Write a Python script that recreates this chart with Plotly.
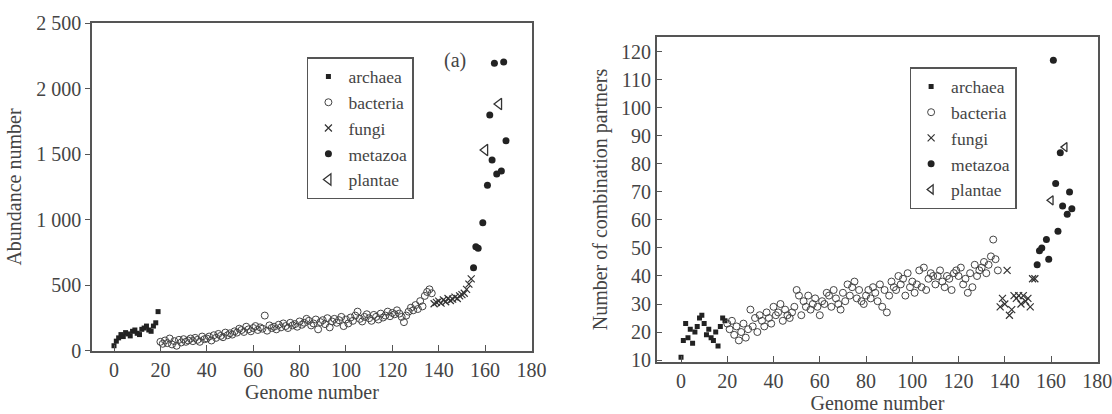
import plotly.graph_objects as go

# ---------------- Panel (a): abundance ----------------
arch_a_x = [0, 1, 2, 3, 4, 5, 6, 7, 8, 9, 10, 11, 12, 13, 14, 15, 16, 17, 18, 19]
arch_a_y = [40, 75, 100, 125, 110, 140, 130, 115, 150, 160, 135, 125, 165, 175, 190, 160, 150, 190, 215, 300]

bact_a_x = [20, 21, 22, 23, 24, 25, 26, 27, 28, 29,
            30, 31, 32, 33, 34, 35, 36, 37, 38, 39,
            40, 41, 42, 43, 44, 45, 46, 47, 48, 49,
            50, 51, 52, 53, 54, 55, 56, 57, 58, 59,
            60, 61, 62, 63, 64, 65, 66, 67, 68, 69,
            70, 71, 72, 73, 74, 75, 76, 77, 78, 79,
            80, 81, 82, 83, 84, 85, 86, 87, 88, 89,
            90, 91, 92, 93, 94, 95, 96, 97, 98, 99,
            100, 101, 102, 103, 104, 105, 106, 107, 108, 109,
            110, 111, 112, 113, 114, 115, 116, 117, 118, 119,
            120, 121, 122, 123, 124, 125, 126, 127, 128, 129,
            130, 131, 132, 133, 134, 135, 136, 137]
bact_a_y = [70, 55, 80, 60, 95, 50, 75, 40, 85, 65,
            90, 70, 80, 95, 75, 100, 85, 70, 110, 90,
            95, 110, 80, 120, 100, 130, 115, 105, 140, 120,
            135, 125, 150, 140, 170, 160, 145, 185, 165, 150,
            175, 190, 160, 180, 170, 270, 155, 195, 175, 185,
            165, 200, 180, 210, 190, 175, 215, 195, 205, 185,
            225, 200, 215, 245, 230, 195, 210, 240, 165, 220,
            235, 205, 250, 180, 225, 245, 215, 235, 260, 190,
            240, 210, 255, 230, 270, 300, 245, 225, 260, 280,
            250, 230, 275, 260, 240, 285, 255, 270, 300, 265,
            290, 280, 310, 285, 260, 220, 270, 300, 330, 310,
            350, 320, 380, 340, 420, 450, 470, 440]

fung_a_x = [138, 139, 140, 141, 142, 143, 144, 145, 146, 147, 148, 149, 150, 151, 152, 153, 154]
fung_a_y = [360, 370, 380, 365, 390, 375, 400, 385, 395, 410, 400, 420, 430, 440, 470, 510, 550]

meta_a_x = [155, 156, 157, 159, 161, 162, 163, 164, 165, 167, 168, 169]
meta_a_y = [635, 795, 783, 978, 1263, 1799, 1456, 2193, 1349, 1372, 2203, 1603]

plan_a_x = [160, 166]
plan_a_y = [1532, 1883]

# ---------------- Panel (b): combination partners ----------------
arch_b_x = [0, 1, 2, 3, 4, 5, 6, 7, 8, 9, 10, 11, 12, 13, 14, 15, 16, 17, 18, 19]
arch_b_y = [11, 17, 23, 18, 21, 16, 20, 22, 25, 26, 23, 19, 21, 18, 17, 20, 15, 22, 25, 24]

bact_b_x = bact_a_x
bact_b_y = [23, 21, 24, 19, 22, 17, 20, 23, 18, 21,
            28, 22, 25, 20, 26, 24, 22, 27, 25, 23,
            29, 26, 27, 30, 24, 28, 26, 25, 27, 29,
            35, 33, 26, 31, 29, 33, 28, 30, 32, 29,
            26, 31, 30, 34, 33, 29, 35, 32, 30, 28,
            34, 31, 37, 33, 36, 38, 32, 35, 31, 30,
            33, 35, 32, 36, 34, 31, 37, 29, 35, 27,
            33, 38, 36, 35, 40, 37, 39, 33, 41, 36,
            38, 34, 37, 42, 36, 43, 35, 39, 41, 40,
            37, 40, 42, 38, 36, 40, 39, 35, 41, 42,
            40, 43, 37, 39, 34, 41, 36, 44, 40, 42,
            43, 45, 41, 44, 47, 53, 46, 42]

fung_b_x = [138, 139, 140, 141, 142, 143, 144, 145, 146, 147, 148, 149, 150, 151, 152, 153]
fung_b_y = [29, 32, 30, 42, 26, 28, 33, 32, 33, 30, 33, 31, 32, 29, 39, 39]

meta_b_x = [154, 155, 156, 158, 159, 161, 162, 163, 164, 165, 167, 168, 169]
meta_b_y = [44, 49, 50, 53, 46, 117, 73, 56, 84, 65, 62, 70, 64]

plan_b_x = [160, 166]
plan_b_y = [67, 86]

a_yticks = [0, 500, 1000, 1500, 2000, 2500]
a_yticklabels = ["0", "500", "1 000", "1 500", "2 000", "2 500"]
b_yticks = [10, 20, 30, 40, 50, 60, 70, 80, 90, 100, 110, 120]
x_ticks = [0, 20, 40, 60, 80, 100, 120, 140, 160, 180]

INK = "#222222"
AX = "#555555"
TXT = "#444444"
FONT = "Liberation Serif, Times New Roman, serif"

groups = [
    ("archaea", dict(symbol="square", size=5, color=INK)),
    ("bacteria", dict(symbol="circle-open", size=7, color="#444444", line=dict(width=1))),
    ("fungi", dict(symbol="x-thin-open", size=7, color="#333333", line=dict(width=1.2))),
    ("metazoa", dict(symbol="circle", size=7, color=INK)),
    ("plantae", dict(symbol="triangle-left-open", size=10, color="#333333", line=dict(width=1.3))),
]

data_a = [(arch_a_x, arch_a_y), (bact_a_x, bact_a_y), (fung_a_x, fung_a_y),
          (meta_a_x, meta_a_y), (plan_a_x, plan_a_y)]
data_b = [(arch_b_x, arch_b_y), (bact_b_x, bact_b_y), (fung_b_x, fung_b_y),
          (meta_b_x, meta_b_y), (plan_b_x, plan_b_y)]

fig = go.Figure()
for (name, mk), (xs, ys) in zip(groups, data_a):
    fig.add_trace(go.Scatter(x=xs, y=ys, mode="markers", name=name, marker=mk,
                             xaxis="x", yaxis="y", legend="legend"))
for (name, mk), (xs, ys) in zip(groups, data_b):
    mk2 = dict(mk)
    if name == "plantae":
        mk2["size"] = 8
    fig.add_trace(go.Scatter(x=xs, y=ys, mode="markers", name=name, marker=mk2,
                             xaxis="x2", yaxis="y2", legend="legend2"))

axis_common = dict(showline=True, linecolor=AX, linewidth=1.5, mirror=True,
                   showgrid=False, zeroline=False, ticks="inside", ticklen=6,
                   automargin=False, ticklabeloverflow="allow",
                   tickcolor=AX, tickfont=dict(family=FONT, size=20, color=TXT),
                   title_font=dict(family=FONT, size=20, color=TXT))

legend_common = dict(xanchor="left", yanchor="top", bordercolor=AX, borderwidth=1.5,
                     bgcolor="white", font=dict(family=FONT, size=17.5, color=TXT),
                     tracegroupgap=0, itemwidth=30)

fig.update_layout(
    width=1112, height=414,
    margin=dict(l=0, r=0, t=0, b=0),
    paper_bgcolor="white", plot_bgcolor="white",
    font=dict(family=FONT, size=20, color=TXT),
    xaxis=dict(domain=[0.0827, 0.4784], range=[-9.5, 180.2], tickvals=x_ticks,
               title=dict(text="Genome number", standoff=0), anchor="y", **axis_common),
    yaxis=dict(domain=[0.1522, 0.9444], range=[0, 2500], tickvals=a_yticks,
               ticktext=a_yticklabels, title=dict(text="Abundance number", standoff=9),
               anchor="x", **{**axis_common, "ticks": "outside", "ticklen": 5}),
    xaxis2=dict(domain=[0.5906, 0.9874], range=[-10.5, 180.3], tickvals=x_ticks,
                title=dict(text="Genome number", standoff=6), anchor="y2", **axis_common),
    yaxis2=dict(domain=[0.1256, 0.9106], range=[9.3, 125.3], tickvals=b_yticks,
                title=dict(text="Number of combination partners", standoff=8),
                anchor="x2", **axis_common),
    legend=dict(x=0.276, y=0.862, **legend_common),
    legend2=dict(x=0.818, y=0.838, **legend_common),
    annotations=[dict(text="(a)", x=0.409, y=0.855, xref="paper", yref="paper",
                      showarrow=False, xanchor="center", yanchor="middle",
                      font=dict(family=FONT, size=20, color=TXT))],
    showlegend=True,
)

fig.write_html("out.html", config={"displayModeBar": False},
               post_script="document.body.style.margin='0';document.body.style.overflow='hidden';")
